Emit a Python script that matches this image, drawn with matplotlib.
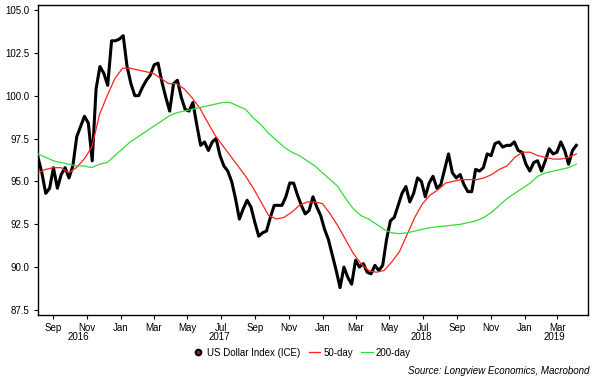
import pandas as pd
import matplotlib.pyplot as plt
import matplotlib.dates as mdates
from matplotlib.lines import Line2D

plt.rcParams['font.family'] = ['Liberation Sans', 'DejaVu Sans']

# weekly readings of the US Dollar Index (ICE), from 2016-08-04
dxy = [96.4, 95.5, 94.3, 94.6, 95.8, 94.6, 95.4, 95.8, 95.2, 95.9,
       97.6, 98.2, 98.8, 98.4, 96.2, 100.4, 101.7, 101.3, 100.6, 103.2,
       103.2, 103.3, 103.5, 101.7, 100.7, 100.0, 100.0, 100.5, 100.9, 101.2,
       101.8, 101.9, 100.8, 99.9, 99.1, 100.7, 100.9, 99.9, 99.2, 99.1,
       99.6, 98.3, 97.1, 97.3, 96.8, 97.3, 97.5, 96.5, 95.9, 95.6,
       95.0, 94.0, 92.8, 93.4, 93.9, 93.5, 92.6, 91.8, 92.0, 92.1,
       92.9, 93.6, 93.6, 93.6, 94.1, 94.9, 94.9, 94.2, 93.6, 93.1,
       93.3, 94.1, 93.5, 93.0, 92.2, 91.6, 90.7, 89.8, 88.8, 90.0,
       89.4, 89.0, 90.4, 90.0, 90.2, 89.7, 89.6, 90.1, 89.8, 90.1,
       91.6, 92.7, 92.9, 93.6, 94.3, 94.7, 93.8, 94.3, 95.2, 95.0,
       94.1, 94.9, 95.3, 94.6, 94.8, 95.7, 96.6, 95.5, 95.2, 95.4,
       94.8, 94.4, 94.4, 95.7, 95.6, 95.8, 96.6, 96.5, 97.2, 97.3,
       97.0, 97.1, 97.1, 97.3, 96.8, 96.7, 96.0, 95.6, 96.1, 96.2,
       95.6, 96.2, 96.9, 96.6, 96.7, 97.3, 96.8, 96.0, 96.8, 97.1]

# moving averages, read roughly every two weeks over the same span
ma50 = [95.5, 95.7, 95.8, 95.8, 95.5, 95.8, 96.3, 97.0, 98.9, 100.0,
        101.0, 101.6, 101.6, 101.5, 101.4, 101.3, 101.0, 100.7, 100.7, 100.4,
        99.9, 99.3, 98.5, 97.7, 97.1, 96.5, 95.9, 95.3, 94.6, 93.8,
        93.0, 92.8, 92.9, 93.2, 93.6, 93.8, 93.8, 93.7, 93.1, 92.4,
        91.6, 90.8, 90.2, 89.8, 89.7, 89.8, 90.3, 90.9, 91.9, 92.9,
        93.7, 94.2, 94.5, 94.9, 95.0, 95.1, 95.1, 95.1, 95.2, 95.4,
        95.7, 95.9, 96.4, 96.7, 96.7, 96.5, 96.4, 96.3, 96.3, 96.4, 96.6]
ma200 = [96.6, 96.4, 96.2, 96.1, 96.0, 95.9, 95.9, 95.8, 96.0, 96.1,
         96.5, 96.9, 97.3, 97.6, 97.9, 98.2, 98.5, 98.8, 99.0, 99.1,
         99.2, 99.3, 99.4, 99.5, 99.6, 99.6, 99.4, 99.2, 98.7, 98.3,
         97.8, 97.4, 97.0, 96.7, 96.5, 96.2, 95.9, 95.5, 95.1, 94.7,
         94.0, 93.4, 93.0, 92.8, 92.5, 92.2, 92.0, 91.95, 92.0, 92.1,
         92.2, 92.3, 92.35, 92.4, 92.45, 92.5, 92.6, 92.7, 92.9, 93.2,
         93.6, 94.0, 94.3, 94.6, 94.9, 95.3, 95.5, 95.6, 95.7, 95.8, 96.0]

dates = pd.date_range('2016-08-04', periods=len(dxy), freq='7D')
ma_dates = pd.date_range('2016-08-04', '2019-04-04', periods=len(ma50))

fig = plt.figure(figsize=(6.03, 3.84), dpi=100)
ax = fig.add_axes([0.063, 0.180, 0.912, 0.807])

ax.plot(dates, dxy, color='black', lw=2.2, zorder=2)
ax.plot(ma_dates, ma50, color='#ff2020', lw=0.9, zorder=3)
ax.plot(ma_dates, ma200, color='#33dd33', lw=0.9, zorder=3)

ax.set_xlim(pd.Timestamp('2016-08-04'), pd.Timestamp('2019-04-25'))
ax.set_ylim(87.21, 105.29)
ax.set_yticks([87.5, 90.0, 92.5, 95.0, 97.5, 100.0, 102.5, 105.0])
ax.yaxis.set_major_formatter(plt.FormatStrFormatter('%.1f'))

ax.xaxis.set_major_locator(mdates.MonthLocator(bymonth=[1, 3, 5, 7, 9, 11]))
ax.xaxis.set_major_formatter(mdates.DateFormatter('%b'))
ax.tick_params(labelsize=7, length=3, width=0.8, pad=3)
for s in ax.spines.values():
    s.set_linewidth(1.0)

# year labels under the month labels
for yr, d in [('2016', '2016-10-16'), ('2017', '2017-06-28'),
              ('2018', '2018-06-28'), ('2019', '2019-02-24')]:
    ax.text(pd.Timestamp(d), -0.055, yr, transform=ax.get_xaxis_transform(),
            ha='center', va='top', fontsize=7)

handles = [Line2D([], [], marker='o', color='black', markerfacecolor='#cc0000',
                  markeredgewidth=1.5, markersize=4, linestyle='none'),
           Line2D([], [], color='#ff2020', lw=0.9),
           Line2D([], [], color='#33dd33', lw=0.9)]
fig.legend(handles, ['US Dollar Index (ICE)', '50-day', '200-day'],
           loc='center', bbox_to_anchor=(0.5, 0.081), ncol=3, frameon=False,
           fontsize=7, handlelength=1.2, handletextpad=0.3, columnspacing=0.9)

fig.text(0.978, 0.034, 'Source: Longview Economics, Macrobond', ha='right',
         va='center', fontsize=7, style='italic')

fig.savefig('out.png', dpi=100)
